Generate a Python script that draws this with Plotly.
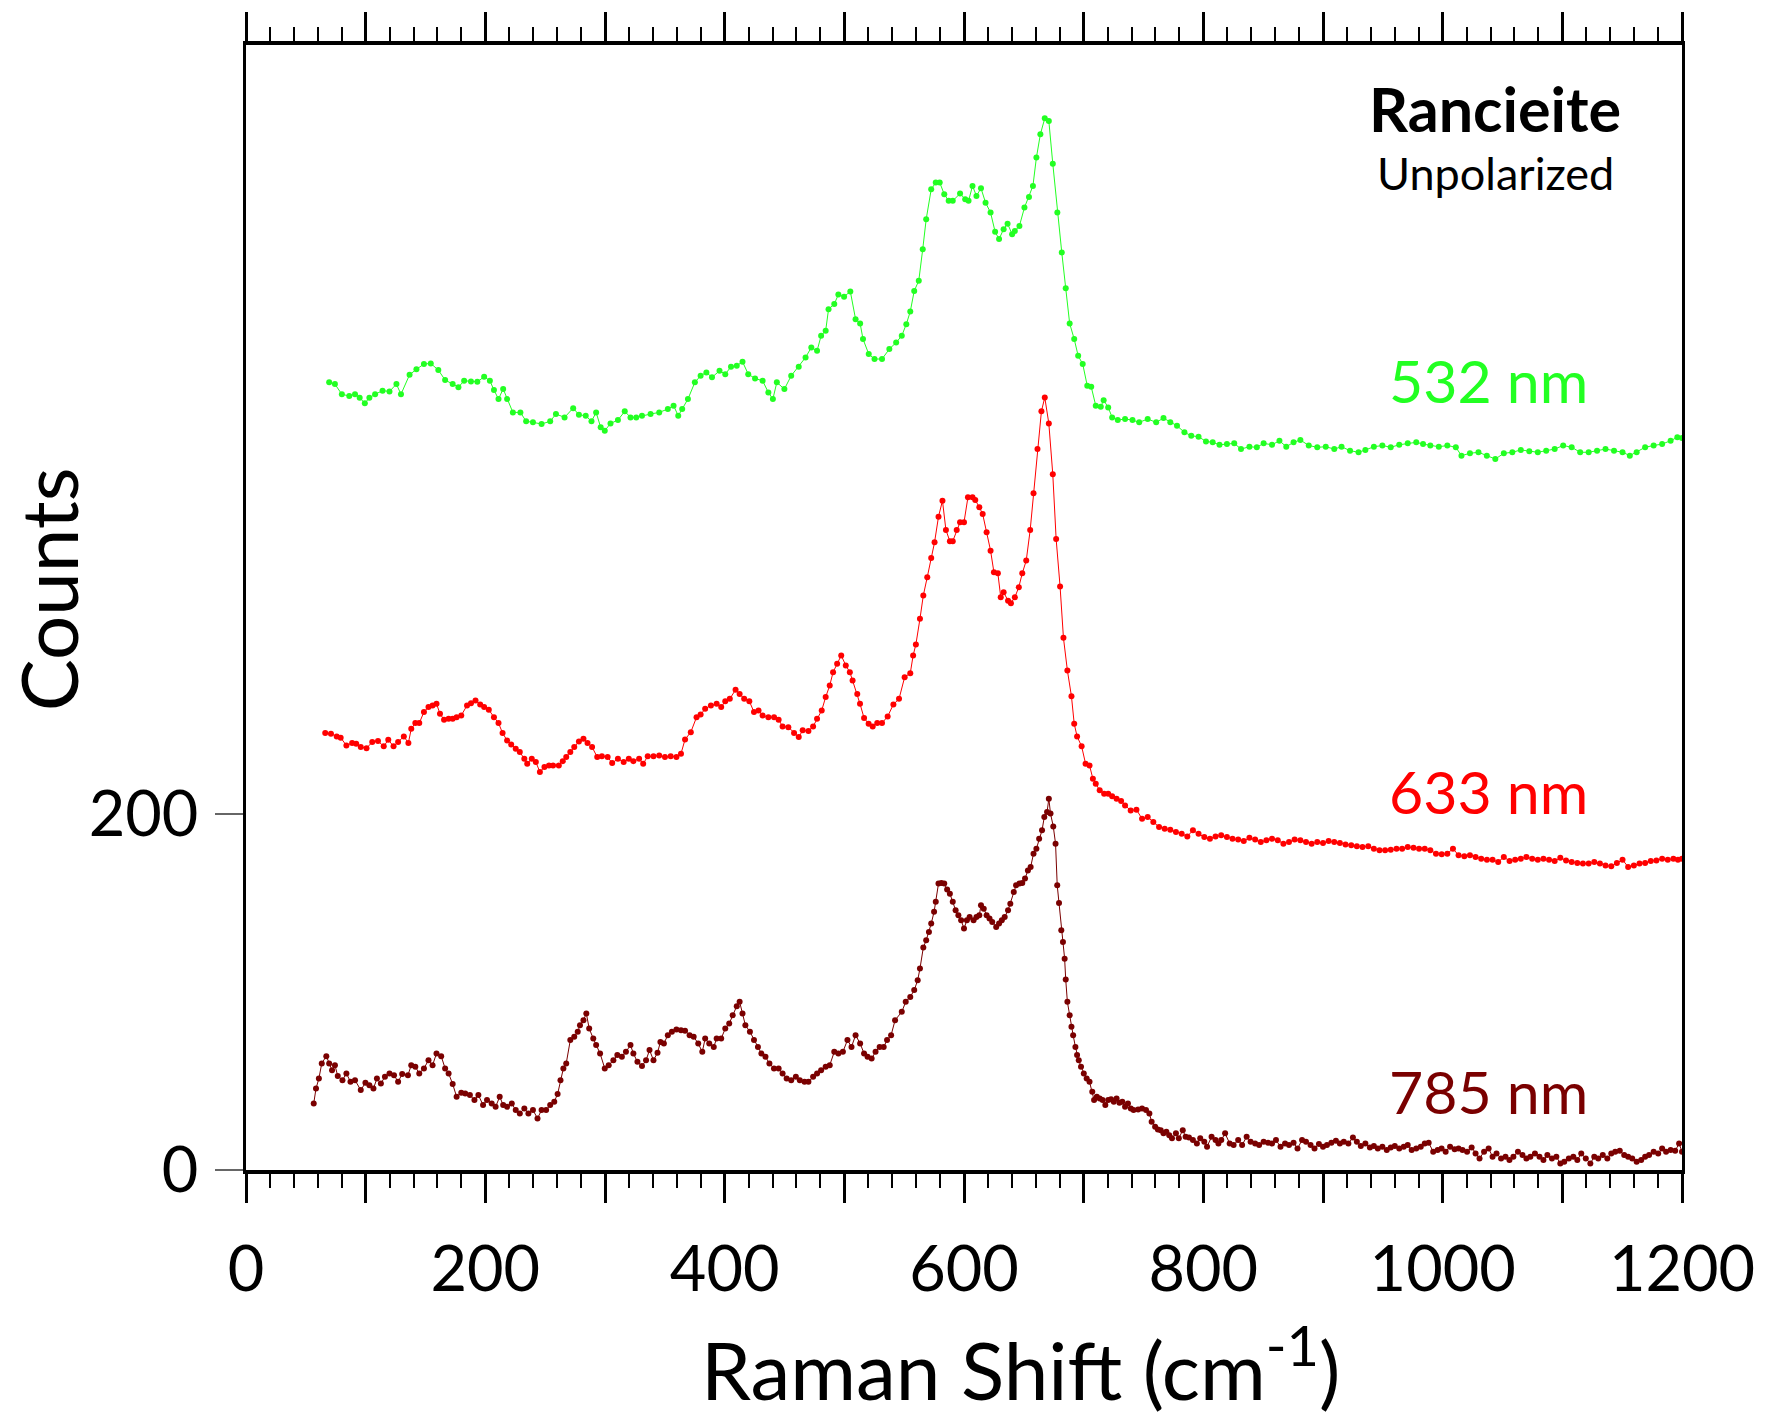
import plotly.graph_objects as go

# ---------------- data ----------------
shift_532 = [69.5, 74.3, 80.1, 86.3, 91.1, 95.0, 99.3, 103.1, 107.9, 114.1, 119.9, 125.7, 129.5, 136.7, 142.4,
             148.7, 154.4, 160.7, 166.4, 172.7, 177.5, 182.3, 188.0, 193.3, 199.0, 203.8, 207.2, 211.0, 214.9,
             218.2, 223.0, 229.3, 234.1, 239.8, 247.0, 254.2, 259.0, 266.2, 273.4, 278.2, 283.9, 288.7, 292.6,
             296.4, 299.8, 304.6, 310.8, 316.5, 321.3, 326.1, 330.9, 338.1, 345.3, 352.5, 357.3, 361.2, 364.5,
             369.3, 375.1, 379.9, 384.7, 389.4, 395.7, 400.5, 405.3, 410.1, 414.9, 419.7, 425.4, 431.7, 436.5,
             440.3, 443.6, 449.9, 455.6, 461.9, 467.6, 472.4, 477.2, 480.6, 484.4, 486.8, 491.6, 495.0, 499.8,
             505.0, 509.4, 513.2, 515.6, 520.4, 525.2, 531.5, 537.6, 543.3, 548.0, 551.8, 555.1, 558.4, 562.2,
             565.5, 568.4, 572.6, 576.4, 579.7, 583.5, 587.2, 590.6, 596.7, 601.0, 603.8, 607.1, 610.4, 614.2,
             618.0, 622.2, 626.0, 629.3, 633.1, 636.4, 640.2, 642.5, 646.3, 650.5, 654.3, 657.6, 660.5, 663.8,
             667.5, 670.9, 674.2, 678.0, 681.7, 685.0, 688.3, 692.1, 695.4, 699.2, 703.0, 706.3, 710.1, 714.3,
             716.7, 720.5, 723.8, 728.5, 734.6, 740.8, 746.4, 753.5, 760.6, 766.7, 772.4, 778.0, 784.2, 789.9,
             796.0, 802.2, 807.8, 813.5, 819.7, 825.8, 831.5, 838.5, 844.7, 850.4, 857.4, 863.6, 869.3, 875.4,
             881.1, 888.1, 895.2, 902.3, 909.4, 915.5, 922.6, 929.7, 935.4, 942.5, 949.6, 956.6, 963.7, 970.8,
             977.9, 983.6, 989.7, 996.8, 1003.9, 1011.0, 1015.7, 1022.8, 1029.9, 1036.9, 1044.0, 1051.1, 1058.2,
             1065.3, 1072.4, 1079.5, 1086.5, 1093.6, 1100.7, 1107.8, 1114.9, 1122.0, 1129.0, 1136.1, 1143.2,
             1150.3, 1156.4, 1162.1, 1169.2, 1176.3, 1183.4, 1190.5, 1196.1, 1200.0]
counts_532 = [442.7, 441.7, 436.0, 435.0, 436.0, 434.0, 431.0, 434.0, 436.0, 438.0, 437.6, 441.7, 436.0, 447.0, 450.0,
              453.0, 453.3, 449.6, 444.0, 441.7, 440.0, 443.6, 443.2, 443.0, 445.8, 443.6, 438.4, 433.3, 439.0,
              433.3, 425.8, 425.8, 420.8, 420.2, 419.3, 420.8, 424.9, 423.0, 428.2, 424.5, 423.9, 420.8, 425.8,
              417.4, 415.5, 419.6, 421.5, 426.4, 423.0, 423.0, 423.9, 424.9, 425.8, 427.7, 429.6, 423.9, 427.7,
              433.3, 442.7, 446.4, 448.3, 445.5, 449.2, 447.3, 451.5, 452.0, 454.3, 447.3, 444.9, 443.6, 437.0,
              433.3, 442.7, 438.9, 446.4, 451.5, 456.7, 462.3, 460.4, 468.9, 471.7, 483.8, 486.7, 492.0, 490.8,
              493.8, 478.2, 475.8, 467.0, 458.6, 455.8, 455.8, 461.4, 465.1, 468.9, 475.4, 482.5, 494.1, 499.8,
              517.5, 534.4, 551.2, 555.0, 555.0, 548.4, 544.7, 544.7, 548.8, 545.6, 544.7, 553.1, 547.5, 551.8,
              543.7, 538.1, 527.3, 523.2, 528.8, 531.9, 526.0, 527.8, 530.6, 540.9, 546.9, 553.1, 569.0, 582.1,
              591.1, 589.6, 565.6, 538.1, 515.7, 495.6, 475.8, 467.0, 457.6, 453.0, 440.8, 440.2, 429.6, 429.0,
              432.7, 428.6, 423.0, 421.5, 422.1, 421.5, 420.2, 422.1, 420.2, 422.6, 420.2, 418.3, 414.6, 412.7,
              412.1, 409.5, 409.0, 407.6, 408.0, 408.4, 405.2, 406.5, 406.2, 408.4, 407.6, 409.9, 406.5, 409.0,
              410.3, 407.2, 406.2, 406.5, 405.2, 406.5, 404.3, 403.4, 404.7, 406.5, 407.2, 406.2, 407.6, 408.4,
              409.0, 408.0, 407.2, 406.5, 407.2, 406.2, 401.5, 402.8, 403.4, 401.5, 399.6, 402.8, 403.4,
              404.7, 403.9, 403.4, 404.3, 405.2, 407.2, 406.2, 403.4, 403.4, 404.3, 405.2, 404.3,
              403.4, 401.5, 403.4, 406.2, 407.2, 408.0, 409.9, 411.8, 411.4]

shift_633 = [66.2, 71.0, 75.8, 79.1, 83.9, 88.7, 92.1, 95.9, 100.7, 105.5, 110.3, 115.1, 118.9, 123.3, 127.1,
             131.9, 135.7, 138.1, 141.5, 144.8, 148.7, 152.5, 155.9, 159.2, 162.1, 165.5, 169.3, 172.7, 176.0,
             179.9, 184.7, 188.0, 191.8, 195.7, 199.0, 202.9, 207.2, 211.0, 214.4, 218.2, 221.6, 225.4, 228.8,
             232.6, 235.0, 238.8, 242.2, 245.6, 249.4, 253.2, 256.6, 261.4, 264.7, 267.6, 271.0, 274.3, 278.2,
             282.0, 285.4, 289.2, 293.5, 297.4, 302.2, 306.0, 310.8, 315.6, 319.9, 323.7, 328.5, 331.9, 335.7,
             340.5, 345.3, 350.1, 354.9, 359.7, 363.5, 366.9, 371.7, 376.5, 379.9, 383.7, 388.5, 393.3, 397.1,
             400.5, 404.3, 409.1, 412.5, 416.3, 420.6, 424.5, 428.3, 431.7, 436.5, 441.3, 445.1, 448.4, 453.2,
             458.0, 461.9, 465.2, 470.0, 473.9, 477.2, 481.1, 484.4, 487.8, 490.6, 494.0, 497.4, 501.2, 504.6,
             506.9, 510.8, 513.1, 516.5, 520.3, 523.7, 527.5, 531.5, 536.2, 541.0, 545.7, 550.4, 555.1, 557.5,
             559.8, 563.2, 566.0, 569.3, 572.6, 575.4, 578.7, 582.0, 584.9, 588.2, 590.6, 593.9, 596.7, 600.0,
             603.3, 607.1, 609.4, 612.8, 615.6, 618.9, 622.2, 625.0, 628.3, 630.7, 633.1, 636.8, 639.2, 642.5,
             645.8, 648.7, 652.0, 655.3, 658.1, 661.4, 664.7, 667.5, 670.9, 674.2, 677.0, 680.3, 683.1, 686.4,
             689.8, 692.1, 694.5, 698.3, 701.6, 704.9, 707.7, 710.1, 713.4, 717.1, 720.5, 723.8, 727.5, 731.3,
             734.6, 739.3, 744.1, 748.8, 753.5, 758.2, 763.0, 767.7, 772.4, 777.1, 781.9, 786.6, 791.3, 796.0,
             800.8, 805.5, 810.2, 814.9, 819.7, 824.4, 829.1, 833.8, 838.5, 843.3, 848.0, 852.7, 857.4, 862.2,
             866.9, 871.6, 876.3, 881.1, 885.8, 890.5, 895.2, 900.0, 904.7, 909.4, 914.1, 918.8, 923.6, 928.3,
             933.0, 937.8, 942.5, 947.2, 951.9, 956.6, 961.4, 966.1, 970.8, 975.6, 980.3, 985.0, 989.7, 994.4,
             999.2, 1003.9, 1008.6, 1013.3, 1018.1, 1022.8, 1027.5, 1032.2, 1037.0, 1041.7, 1046.4, 1051.1,
             1055.9, 1060.6, 1065.3, 1070.0, 1074.8, 1079.5, 1084.2, 1088.9, 1093.6, 1098.3, 1103.1, 1107.8,
             1112.5, 1117.2, 1122.0, 1126.7, 1131.4, 1136.1, 1140.9, 1145.6, 1150.3, 1155.0, 1159.8, 1164.5,
             1169.2, 1173.9, 1178.6, 1183.4, 1188.1, 1192.8, 1196.6, 1200.0]
counts_633 = [245.6, 245.2, 243.7, 243.0, 238.6, 240.0, 239.6, 237.7, 237.1, 240.5, 241.1, 238.1, 241.8, 238.1, 240.5,
              243.7, 240.0, 248.0, 251.2, 251.2, 257.4, 260.2, 261.1, 262.1, 256.4, 253.1, 253.6, 253.6, 254.5,
              255.5, 261.1, 262.4, 263.9, 261.7, 260.2, 258.7, 254.5, 251.2, 245.6, 241.4, 239.2, 236.8, 234.9,
              231.1, 228.3, 231.1, 229.3, 223.7, 226.5, 227.4, 227.4, 227.4, 229.8, 232.1, 234.9, 237.7, 240.9,
              242.4, 240.0, 237.7, 232.1, 232.5, 232.1, 228.7, 231.1, 229.3, 231.1, 229.8, 231.1, 228.3, 232.5,
              232.5, 233.0, 232.1, 232.5, 232.1, 234.0, 242.0, 246.1, 254.5, 256.0, 259.2, 261.1, 262.0, 260.2,
              263.5, 264.8, 269.9, 267.6, 264.8, 263.5, 257.4, 258.3, 255.5, 254.5, 254.5, 253.1, 249.3, 248.9,
              245.6, 243.3, 247.1, 246.7, 249.3, 253.6, 258.3, 265.8, 272.3, 279.8, 284.5, 289.2, 283.6, 279.8,
              275.1, 267.6, 262.0, 254.0, 250.8, 249.3, 251.2, 251.2, 254.9, 261.7, 264.8, 277.0, 279.2, 289.2,
              295.4, 309.8, 322.9, 333.2, 344.0, 352.8, 367.2, 376.2, 359.7, 353.4, 353.4, 359.7, 364.1, 364.1,
              378.1, 378.1, 376.6, 372.5, 368.7, 358.4, 348.1, 336.0, 335.4, 321.9, 324.7, 320.0, 318.6, 321.9,
              327.6, 335.4, 342.5, 359.7, 380.3, 405.2, 426.4, 434.2, 419.6, 391.0, 354.7, 327.9, 299.1, 280.8,
              266.2, 250.8, 243.7, 238.1, 228.3, 227.4, 219.9, 217.1, 213.4, 211.5, 211.5, 210.0, 208.7, 207.4,
              204.9, 202.1, 202.5, 197.4, 198.4, 195.6, 192.8, 191.8, 191.3, 190.0, 189.0, 187.5, 190.9, 189.0,
              187.1, 186.2, 187.5, 188.1, 187.1, 186.2, 185.7, 184.9, 186.8, 185.7, 184.3, 185.3, 186.2, 185.3,
              183.4, 184.3, 185.7, 185.3, 184.3, 183.4, 184.3, 183.8, 184.9, 184.3, 183.8, 183.0, 182.5, 181.9,
              181.5, 181.9, 180.6, 179.7, 179.7, 180.0, 180.6, 180.6, 181.5, 181.1, 180.6, 180.6, 179.7, 177.8,
              177.4, 177.8, 180.6, 176.9, 176.3, 176.9, 175.9, 175.0, 174.4, 174.4, 173.1, 175.9,
              173.7, 174.4, 175.0, 175.9, 175.0, 174.4, 175.0, 174.4, 173.7, 175.5, 174.0, 173.1,
              172.6, 172.2, 172.2, 173.1, 172.2, 171.2, 170.7, 172.6, 174.4, 170.3, 171.2, 172.2,
              172.6, 173.7, 174.0, 175.0, 174.4, 175.0, 174.4, 175.0]

shift_785 = [56.6, 58.5, 60.9, 63.3, 67.1, 69.5, 71.9, 74.3, 76.7, 80.6, 83.9, 87.3, 91.1, 95.9, 99.8, 103.1,
             106.5, 109.4, 112.7, 116.1, 119.9, 123.7, 127.1, 130.5, 135.3, 138.1, 141.5, 144.8, 148.7, 152.5,
             155.9, 159.2, 163.1, 166.4, 169.3, 172.7, 176.0, 179.9, 183.2, 187.1, 190.9, 194.2, 198.1, 201.4,
             205.3, 208.6, 212.0, 214.9, 218.2, 222.1, 225.4, 228.8, 232.6, 236.0, 239.8, 243.6, 247.0, 250.8,
             254.2, 257.6, 260.4, 262.8, 265.2, 267.6, 271.0, 274.3, 277.2, 279.1, 282.0, 284.4, 286.8, 290.2,
             292.6, 295.9, 299.8, 303.1, 307.0, 310.3, 314.1, 317.5, 321.3, 323.7, 327.1, 330.9, 334.3, 337.2,
             340.5, 343.9, 346.3, 349.2, 352.5, 355.9, 359.7, 363.5, 366.9, 370.7, 374.1, 377.9, 381.3, 383.7,
             387.1, 390.9, 393.3, 397.1, 400.5, 403.8, 406.7, 410.1, 412.5, 414.9, 417.3, 421.1, 424.5, 427.8,
             430.7, 434.1, 437.4, 441.2, 445.1, 448.4, 451.8, 455.6, 459.5, 462.8, 466.7, 470.0, 473.9, 477.2,
             480.6, 484.4, 487.8, 491.6, 495.0, 498.8, 502.6, 506.0, 509.4, 513.2, 516.5, 519.4, 522.8, 526.1,
             529.5, 532.9, 535.7, 539.1, 542.4, 548.0, 551.3, 555.1, 558.4, 561.3, 563.2, 566.0, 568.4, 570.7,
             572.6, 575.0, 576.4, 578.7, 581.1, 583.5, 585.9, 588.2, 590.6, 593.0, 595.3, 597.6, 600.0, 602.4,
             604.7, 608.0, 610.4, 612.8, 614.2, 616.5, 618.9, 621.3, 623.6, 626.9, 629.3, 631.6, 634.0, 636.8,
             638.7, 641.6, 643.5, 646.3, 648.7, 651.0, 653.4, 655.7, 658.1, 660.5, 662.8, 665.2, 667.1, 669.4,
             670.9, 672.3, 674.6, 676.5, 677.9, 679.4, 681.3, 682.7, 684.1, 685.0, 686.4, 688.3, 689.8, 691.2,
             693.1, 694.5, 695.9, 697.8, 700.1, 702.5, 704.9, 707.2, 708.7, 711.0, 713.4, 715.8, 718.1, 720.5,
             722.9, 725.2, 727.5, 729.9, 732.3, 734.6, 737.0, 739.4, 741.7, 745.5, 748.8, 752.1, 754.9, 756.8,
             759.7, 762.0, 764.4, 766.7, 769.1, 771.5, 773.8, 777.1, 779.5, 782.8, 785.2, 788.0, 791.3, 794.6,
             797.4, 800.8, 803.1, 806.9, 810.2, 812.6, 815.0, 818.2, 822.0, 825.3, 829.1, 832.4, 836.2, 839.5,
             843.3, 846.6, 850.4, 854.1, 857.4, 860.7, 864.5, 868.3, 871.6, 875.4, 878.7, 882.5, 885.8, 889.6,
             892.9, 896.6, 900.0, 903.3, 907.0, 910.8, 914.1, 917.4, 921.2, 925.0, 928.3, 931.6, 935.4, 939.2,
             942.5, 945.8, 949.6, 953.3, 956.6, 960.0, 963.7, 967.5, 970.8, 974.1, 977.9, 981.7, 985.0, 988.3,
             992.1, 995.8, 999.1, 1002.5, 1006.2, 1010.0, 1013.3, 1016.6, 1020.4, 1024.2, 1027.5, 1030.8,
             1034.6, 1038.4, 1041.7, 1045.0, 1048.8, 1052.5, 1055.8, 1059.1, 1062.9, 1066.7, 1070.0, 1073.3,
             1077.1, 1080.9, 1084.2, 1087.5, 1091.3, 1095.0, 1098.3, 1101.6, 1105.4, 1109.2, 1112.5, 1115.8,
             1119.6, 1123.4, 1126.7, 1130.0, 1133.8, 1137.6, 1140.9, 1144.2, 1148.0, 1151.7, 1155.0, 1158.4,
             1162.1, 1165.9, 1169.2, 1172.5, 1176.3, 1180.1, 1183.4, 1186.7, 1190.5, 1194.3, 1197.6, 1200.0]
counts_785 = [37.4, 45.8, 51.4, 59.9, 64.0, 59.9, 56.1, 58.9, 52.8, 50.5, 54.3, 49.6, 50.5, 44.9, 49.0, 47.7,
              45.8, 51.4, 48.6, 52.4, 54.3, 53.3, 49.6, 53.9, 53.3, 58.9, 58.0, 54.3, 57.1, 61.7,
              58.9, 65.5, 64.0, 57.1, 54.3, 48.3, 41.2, 43.4, 43.0, 42.1, 39.3, 42.1, 36.5, 39.3,
              37.4, 35.5, 41.2, 36.5, 35.5, 37.4, 33.7, 31.8, 34.6, 31.8, 33.7, 29.0, 33.7, 33.7,
              36.5, 38.4, 42.7, 50.5, 57.1, 59.9, 73.0, 74.9, 77.7, 81.4, 84.2, 88.0, 79.5, 73.9,
              70.2, 65.5, 57.1, 58.9, 61.7, 64.6, 63.6, 66.4, 70.2, 65.5, 60.8, 58.4, 61.7, 67.4,
              61.7, 65.9, 72.0, 71.1, 75.8, 77.7, 79.0, 78.6, 78.2, 75.8, 74.9, 71.1, 66.4, 73.9,
              71.1, 69.2, 73.9, 73.9, 79.5, 82.3, 87.0, 92.1, 94.5, 88.0, 81.4, 77.7, 73.0, 69.2,
              65.5, 63.6, 59.9, 57.1, 57.1, 54.3, 51.4, 50.5, 52.4, 50.5, 49.6, 49.6, 52.4, 54.3,
              56.1, 58.0, 58.9, 66.4, 65.5, 66.4, 73.0, 69.2, 75.8, 71.1, 65.5, 63.6, 62.7, 66.4,
              69.2, 69.2, 73.0, 75.8, 84.2, 88.9, 94.5, 97.3, 101.1, 106.7, 113.2, 125.0, 129.1, 133.8,
              138.5, 145.1, 150.7, 161.0, 161.3, 161.0, 157.6, 155.3, 150.7, 146.0, 143.2, 140.4, 135.7, 140.4,
              142.2, 140.4, 142.2, 143.2, 148.8, 146.9, 143.2, 141.3, 139.4, 136.6, 138.5, 140.4, 142.2, 146.0,
              149.7, 156.3, 160.0, 161.0, 161.3, 163.8, 168.4, 170.3, 177.8, 180.6, 186.2, 190.9, 198.4, 201.2,
              208.7, 200.3, 193.1, 183.4, 160.0, 150.1, 134.7, 128.2, 118.8, 107.0, 94.5, 87.0, 80.5, 75.8,
              69.2, 64.6, 61.7, 58.0, 54.3, 51.4, 49.6, 44.0, 39.3, 41.2, 40.2, 39.3, 36.5, 39.3,
              39.7, 38.4, 40.2, 37.8, 38.4, 35.5, 37.4, 34.6, 33.7, 34.0, 34.6, 33.7, 31.8, 27.1,
              24.3, 22.8, 22.4, 20.6, 21.5, 19.6, 17.8, 20.6, 17.8, 22.4, 18.7, 18.3, 16.8, 14.9,
              17.8, 15.9, 13.1, 18.7, 16.8, 14.9, 16.8, 20.6, 14.9, 14.0, 16.8, 14.0, 18.7, 15.9,
              14.9, 14.0, 15.9, 15.3, 14.9, 16.8, 13.1, 14.9, 14.0, 15.3, 12.1, 16.8, 15.9, 14.0,
              12.1, 14.6, 13.1, 14.0, 15.3, 16.4, 14.9, 15.9, 14.9, 18.3, 15.9, 13.5, 14.9, 12.7,
              13.5, 12.1, 13.1, 11.2, 12.7, 13.5, 12.1, 13.1, 14.0, 11.2, 12.1, 13.1, 14.9, 15.3,
              10.3, 11.2, 12.1, 10.3, 13.1, 11.6, 12.1, 11.2, 10.3, 12.7, 9.3, 6.5,
              10.3, 12.1, 7.5, 9.3, 6.5, 7.5, 5.6, 7.5, 10.3, 8.4, 6.5, 7.5,
              9.3, 7.5, 5.6, 8.4, 6.5, 7.5, 3.7, 4.6, 6.5, 7.5, 5.6, 9.3,
              6.5, 3.7, 7.5, 6.5, 8.4, 6.5, 9.3, 10.3, 10.8, 8.4, 7.5, 6.5,
              4.6, 5.6, 7.5, 8.4, 10.3, 9.3, 12.1, 10.3, 11.2, 10.8, 14.9, 10.3]

labels = ["532 nm", "633 nm", "785 nm"]
colors = ["#22FF22", "#FF0000", "#7A0000"]
label_y = [0.702, 0.336, 0.070]

x_tick_vals = [0, 100, 200, 300, 400, 500, 600, 700, 800, 900, 1000, 1100, 1200]
x_tick_text = ["0", "", "200", "", "400", "", "600", "", "800", "", "1000", "", "1200"]
y_tick_vals = [0, 200]
y_tick_text = ["0", "200"]

FONT = "Lato, 'Open Sans', 'DejaVu Sans', sans-serif"

fig = go.Figure()
for xs, ys, col, name in zip([shift_532, shift_633, shift_785],
                             [counts_532, counts_633, counts_785], colors, labels):
    fig.add_trace(go.Scatter(x=xs, y=ys, mode="lines+markers", name=name,
                             line=dict(color=col, width=1),
                             marker=dict(color=col, size=6),
                             showlegend=False))

fig.update_layout(
    width=1767, height=1419,
    margin=dict(l=246, r=83, t=44, b=249),
    paper_bgcolor="white", plot_bgcolor="white",
    font=dict(family=FONT, color="black"),
)
fig.update_xaxes(
    range=[0, 1200], showgrid=False, zeroline=False,
    showline=True, linecolor="black", linewidth=3.5, mirror="ticks",
    tickmode="array", tickvals=x_tick_vals, ticktext=x_tick_text,
    ticks="outside", ticklen=29, tickwidth=2.5, tickcolor="black",
    ticklabelstandoff=13,
    tickfont=dict(size=63, family=FONT, color="black"),
    minor=dict(dtick=20, ticks="outside", ticklen=14, tickwidth=2, tickcolor="black", showgrid=False),
)
fig.update_yaxes(
    range=[0, 632.3], showgrid=False, zeroline=False,
    showline=True, linecolor="black", linewidth=3, mirror=True,
    tickmode="array", tickvals=y_tick_vals, ticktext=y_tick_text,
    ticks="outside", ticklen=28, tickwidth=1.5, tickcolor="#666666",
    ticklabelstandoff=4,
    tickfont=dict(size=63, family=FONT, color="black"),
)

annotations = [
    dict(text="Raman Shift (cm<sup>-1</sup>)", x=0.539, y=-0.172, xref="paper", yref="paper",
         showarrow=False, font=dict(size=80, family=FONT, color="black"), xanchor="center", yanchor="middle"),
    dict(text="Counts", x=-0.138, y=0.516, xref="paper", yref="paper", textangle=-90,
         showarrow=False, font=dict(size=78, family=FONT, color="black"), xanchor="center", yanchor="middle"),
    dict(text="<b>Rancieite</b>", x=0.870, y=0.944, xref="paper", yref="paper",
         showarrow=False, font=dict(size=61, family=FONT, color="black"), xanchor="center", yanchor="middle"),
    dict(text="Unpolarized", x=0.870, y=0.886, xref="paper", yref="paper",
         showarrow=False, font=dict(size=45, family=FONT, color="black"), xanchor="center", yanchor="middle"),
]
for lab, col, ly in zip(labels, colors, label_y):
    annotations.append(dict(text=lab, x=0.865, y=ly, xref="paper", yref="paper", showarrow=False,
                            font=dict(size=59, family=FONT, color=col), xanchor="center", yanchor="middle"))
fig.update_layout(annotations=annotations)

fig.write_html("out.html")
